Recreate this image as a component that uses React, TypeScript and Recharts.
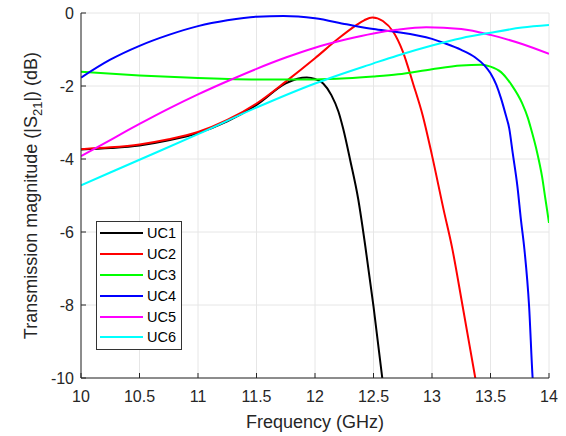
import React from "react"
import { LineChart, Line, XAxis, YAxis, CartesianGrid, Legend, Label } from "recharts"

const xTicks = [10, 10.5, 11, 11.5, 12, 12.5, 13, 13.5, 14]
const yTicks = [-10, -8, -6, -4, -2, 0]

const uc1Freq = [10, 10.25, 10.5, 10.75, 11, 11.25, 11.5, 11.75, 11.85, 11.93, 12, 12.07, 12.14, 12.2, 12.24, 12.3, 12.37, 12.43, 12.5, 12.575, 12.6]
const uc1Db = [-3.74, -3.7, -3.63, -3.49, -3.29, -2.97, -2.52, -1.93, -1.8, -1.77, -1.81, -1.93, -2.25, -2.7, -3.16, -4.02, -5.11, -6.39, -8.04, -10, -10.6]

const uc2Freq = [10, 10.25, 10.5, 10.75, 11, 11.25, 11.5, 11.75, 12, 12.2, 12.35, 12.42, 12.49, 12.58, 12.67, 12.75, 12.84, 12.92, 13, 13.1, 13.17, 13.26, 13.37, 13.42]
const uc2Db = [-3.73, -3.68, -3.6, -3.46, -3.26, -2.93, -2.48, -1.88, -1.24, -0.7, -0.34, -0.2, -0.12, -0.22, -0.52, -1.05, -1.95, -2.8, -3.9, -5.4, -6.4, -8, -10, -10.9]

const uc3Freq = [10, 10.5, 11, 11.5, 12, 12.27, 12.5, 12.71, 13, 13.25, 13.42, 13.5, 13.59, 13.68, 13.77, 13.82, 13.84, 13.9, 13.94, 13.97, 14]
const uc3Db = [-1.61, -1.71, -1.78, -1.82, -1.82, -1.79, -1.74, -1.68, -1.54, -1.44, -1.42, -1.47, -1.62, -1.97, -2.47, -2.88, -3.1, -3.84, -4.47, -5.11, -5.75]

const uc4Freq = [10, 10.25, 10.5, 10.75, 11, 11.25, 11.5, 11.73, 12, 12.27, 12.5, 12.7, 13, 13.11, 13.25, 13.37, 13.45, 13.5, 13.55, 13.59, 13.63, 13.66, 13.69, 13.73, 13.76, 13.79, 13.83, 13.86, 13.88]
const uc4Db = [-1.77, -1.28, -0.9, -0.6, -0.36, -0.2, -0.1, -0.08, -0.145, -0.31, -0.44, -0.52, -0.71, -0.83, -1.01, -1.22, -1.44, -1.65, -1.97, -2.34, -2.79, -3.16, -3.84, -4.75, -5.66, -6.48, -8.04, -10, -10.8]

const uc5Freq = [10, 10.25, 10.5, 10.75, 11, 11.25, 11.5, 11.75, 12, 12.27, 12.5, 12.7, 12.95, 13.25, 13.5, 13.77, 14]
const uc5Db = [-3.92, -3.48, -3.04, -2.62, -2.23, -1.87, -1.53, -1.22, -0.95, -0.72, -0.56, -0.46, -0.39, -0.44, -0.6, -0.85, -1.12]

const uc6Freq = [10, 10.5, 11, 11.5, 12, 12.5, 12.7, 13, 13.25, 13.5, 13.77, 14]
const uc6Db = [-4.72, -4.02, -3.32, -2.59, -1.93, -1.38, -1.17, -0.89, -0.69, -0.54, -0.4, -0.33]

const toRows = (freq: number[], db: number[]) => freq.map((f, i) => ({ f, db: db[i] }))

const series = [
  { name: "UC1", color: "#000000", data: toRows(uc1Freq, uc1Db) },
  { name: "UC2", color: "#ff0000", data: toRows(uc2Freq, uc2Db) },
  { name: "UC3", color: "#00ff00", data: toRows(uc3Freq, uc3Db) },
  { name: "UC4", color: "#0000ff", data: toRows(uc4Freq, uc4Db) },
  { name: "UC5", color: "#ff00ff", data: toRows(uc5Freq, uc5Db) },
  { name: "UC6", color: "#00ffff", data: toRows(uc6Freq, uc6Db) },
]

const font = "'Liberation Sans', Arial, Helvetica, sans-serif"
const axisColor = "#262626"

function LegendBox() {
  return (
    <div
      style={{
        boxSizing: "border-box",
        width: 86,
        height: 129,
        border: "1px solid #333",
        background: "#fff",
        paddingTop: 1,
        fontFamily: font,
      }}
    >
      {series.map((s) => (
        <div key={s.name} style={{ display: "flex", alignItems: "center", height: 20.8 }}>
          <div style={{ marginLeft: 3, width: 43, height: 2, background: s.color }} />
          <span style={{ marginLeft: 4, fontSize: 14.5, color: "#000", lineHeight: "16px" }}>{s.name}</span>
        </div>
      ))}
    </div>
  )
}

function YLabel(props: any) {
  const vb = props.viewBox
  const cx = vb.x + 37
  const cy = vb.y + vb.height / 2
  return (
    <text
      x={cx}
      y={cy}
      transform={`rotate(-90, ${cx}, ${cy})`}
      textAnchor="middle"
      fontSize={18}
      fontFamily={font}
      fill={axisColor}
    >
      Transmission magnitude (|S
      <tspan dy={5} fontSize={13}>21</tspan>
      <tspan dy={-5}>|) (dB)</tspan>
    </text>
  )
}

export default function App() {
  const tickStyle = { fontSize: 16, fill: axisColor, fontFamily: font }
  return (
    <div style={{ position: "absolute", left: 0, top: 0, background: "#fff" }}>
      <LineChart width={566} height={436} margin={{ top: 13, right: 17, bottom: 0, left: 0 }}>
        <CartesianGrid stroke="#e6e6e6" strokeWidth={1} />
        <XAxis
          dataKey="f"
          type="number"
          domain={[10, 14]}
          ticks={xTicks}
          interval={0}
          height={58}
          tickSize={-5}
          tickMargin={18}
          tick={tickStyle}
          stroke={axisColor}
          allowDataOverflow
        >
          <Label value="Frequency (GHz)" position="insideBottom" offset={8} fontSize={18} fontFamily={font} fill={axisColor} />
        </XAxis>
        <XAxis
          xAxisId="top"
          orientation="top"
          dataKey="f"
          type="number"
          domain={[10, 14]}
          ticks={xTicks}
          interval={0}
          height={0}
          tickSize={-5}
          tickFormatter={() => ""}
          stroke={axisColor}
        />
        <YAxis
          type="number"
          domain={[-10, 0]}
          ticks={yTicks}
          interval={0}
          width={81}
          tickSize={-5}
          tickMargin={12}
          tick={tickStyle}
          stroke={axisColor}
          allowDataOverflow
          label={<YLabel />}
        />
        <YAxis
          yAxisId="right"
          orientation="right"
          type="number"
          domain={[-10, 0]}
          ticks={yTicks}
          interval={0}
          width={0}
          tickSize={-5}
          tickFormatter={() => ""}
          stroke={axisColor}
        />
        {series.map((s) => (
          <Line
            key={s.name}
            data={s.data}
            dataKey="db"
            name={s.name}
            type="monotone"
            stroke={s.color}
            strokeWidth={2}
            dot={false}
            activeDot={false}
            isAnimationActive={false}
          />
        ))}
        <Legend
          layout="vertical"
          align="center"
          verticalAlign="middle"
          content={() => <LegendBox />}
          wrapperStyle={{ left: 96, top: 221, width: 86, height: 129 }}
        />
      </LineChart>
    </div>
  )
}
